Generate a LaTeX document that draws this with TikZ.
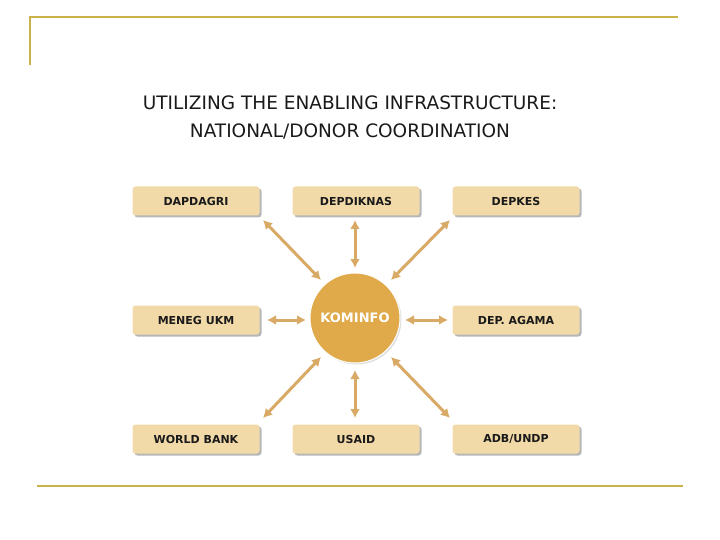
\documentclass[tikz,border=0pt]{standalone}
\usepackage{fontspec}
\setmainfont{DejaVu Sans}
\usetikzlibrary{shadows,arrows.meta}
\definecolor{frame}{HTML}{C9B24A}
\definecolor{boxfill}{HTML}{F2D9A8}
\definecolor{circ}{HTML}{E0A94A}
\definecolor{arr}{HTML}{D9AA66}
\definecolor{txt}{HTML}{1A1A1A}
\begin{document}
\begin{tikzpicture}[x=1pt,y=-1pt,
  box/.style={draw=none,fill=boxfill,rounded corners=3pt,minimum width=127pt,minimum height=29pt,
    font=\bfseries\fontsize{11}{13}\selectfont,text=txt,
    drop shadow={shadow xshift=2pt,shadow yshift=-2pt,fill=gray!70,opacity=0.8}},
  link/.style={arr,line width=3pt,{Latex[length=9pt,width=10pt]}-{Latex[length=9pt,width=10pt]}}]
\useasboundingbox[fill=white] (0,0) rectangle (720,540);
\draw[frame,line width=1.3pt] (30,65) -- (30,17) -- (678,17);
\draw[frame,line width=1.3pt] (37,486) -- (683,486);
\node[font=\fontsize{18.5}{28}\selectfont,text=txt,align=center] (title) at (350,117) {UTILIZING THE ENABLING INFRASTRUCTURE:\\NATIONAL/DONOR COORDINATION};
\node[box] (b1) at (196,201) {DAPDAGRI};
\node[box] (b2) at (356,201) {DEPDIKNAS};
\node[box] (b3) at (516,201) {DEPKES};
\node[box] (b4) at (196,320) {MENEG UKM};
\node[box] (b6) at (516,320) {DEP. AGAMA};
\node[box] (b7) at (196,439) {WORLD BANK};
\node[box] (b8) at (356,439) {USAID};
\node[box] (b9) at (516,439) {ADB/UNDP};
\node[circle,fill=circ,minimum size=90pt,draw=white,line width=1pt,drop shadow={shadow xshift=1.5pt,shadow yshift=-1.5pt,fill=gray!50}] (k) at (355,318) {};
\node[font=\bfseries\fontsize{13}{15}\selectfont,text=white] (kt) at (355,318) {KOMINFO};
\coordinate (a1) at (263,220); \coordinate (c1) at (321,280);
\coordinate (a2) at (355,220); \coordinate (c2) at (355,268);
\coordinate (a3) at (450,220); \coordinate (c3) at (391,280);
\coordinate (a4) at (267,320); \coordinate (c4) at (306,320);
\coordinate (a6) at (448,320); \coordinate (c6) at (405,320);
\coordinate (a7) at (263,418); \coordinate (c7) at (321,357);
\coordinate (a8) at (355,418); \coordinate (c8) at (355,370);
\coordinate (a9) at (450,418); \coordinate (c9) at (391,357);
\foreach \i in {1,2,3,4,6,7,8,9} \draw[link] (a\i) -- (c\i);
\end{tikzpicture}
\end{document}
